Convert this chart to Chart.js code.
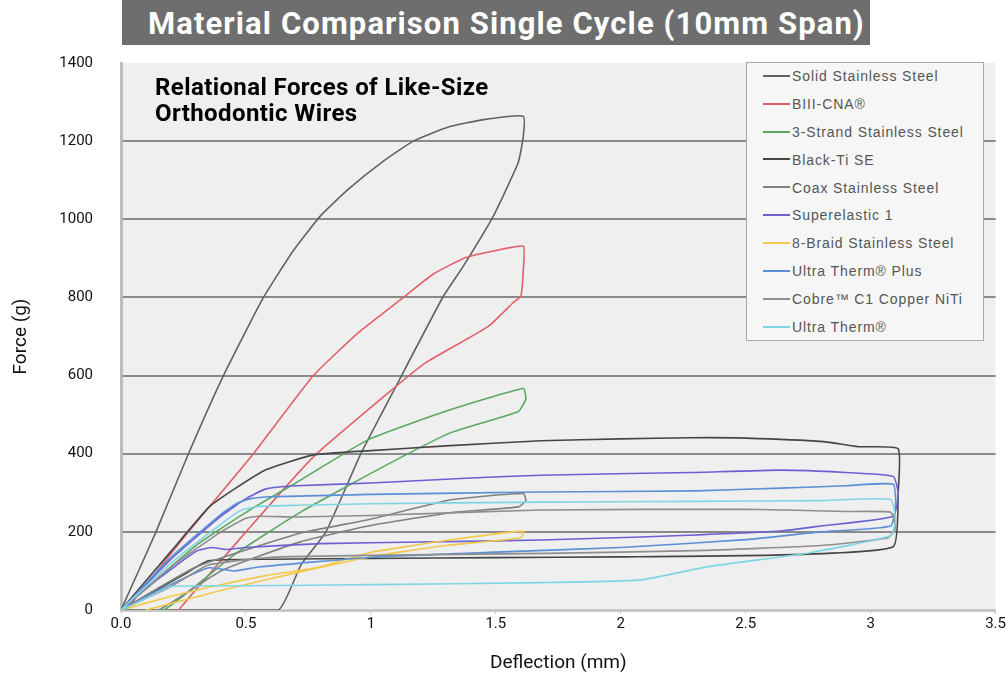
<!DOCTYPE html>
<html lang="en">
<head>
    <meta charset="UTF-8">
    <title>Material Comparison Single Cycle (10mm Span)</title>
    <script src="https://cdn.jsdelivr.net/npm/chart.js"></script>
    <style>
        body { margin: 0; background: #fff; font-family: Roboto, "Liberation Sans", sans-serif; }
        .wrap { position: relative; width: 1007px; height: 681px; }
        .title-bar {
            position: absolute; left: 122px; top: 0; width: 748px; height: 45px;
            background: #6e6e6e; color: #fff; font-weight: bold; font-size: 31px;
            line-height: 47px; white-space: nowrap; letter-spacing: 1.1px;
        }
        .title-bar span { display: inline-block; margin-left: 26px; }
        .subtitle {
            position: absolute; left: 155px; top: 74px; font-weight: bold; font-size: 24px;
            line-height: 26px; color: #000; letter-spacing: 0.4px;
        }
        .legend {
            position: absolute; left: 746px; top: 62px; width: 238px; height: 279px;
            background: #f6f6f6; border: 1px solid #a8a8a8; box-sizing: border-box;
            padding-top: 2px;
        }
        .legend div {
            height: 27.9px; line-height: 22px; font-size: 14px; color: #555; white-space: nowrap;
            font-family: "Liberation Sans", Arial, sans-serif; letter-spacing: 0.9px;
        }
        .legend i { display: inline-block; width: 27px; height: 2px; vertical-align: middle; margin: 0 2px 3px 16px; }
    </style>
</head>
<body>
    <div class="wrap">
        <canvas id="chart" width="1007" height="681"></canvas>
        <div class="title-bar"><span>Material Comparison Single Cycle (10mm Span)</span></div>
        <div class="subtitle">Relational Forces of Like-Size<br>Orthodontic Wires</div>
        <div class="legend" id="legend"></div>
    </div>

    <script>
        // deflection (mm), force (g) - loading then unloading for each wire
        const seriesNames = ['Solid Stainless Steel', 'BIII-CNA®', '3-Strand Stainless Steel', 'Black-Ti SE',
            'Coax Stainless Steel', 'Superelastic 1', '8-Braid Stainless Steel', 'Ultra Therm® Plus',
            'Cobre™ C1 Copper NiTi', 'Ultra Therm®'];
        const seriesColors = ['#5c6466', '#e0606a', '#5aa860', '#454545', '#808080',
            '#6a60d0', '#f2c94c', '#5b8fd8', '#8e8e8e', '#7fd6e3'];

        const solidSteel = [[0,0],[0.14,200],[0.27,400],[0.41,600],[0.57,800],[0.69,920],[0.8,1010],[0.91,1077],
            [1.05,1149],[1.17,1200],[1.31,1236],[1.45,1255],[1.61,1264],[1.61,1213],[1.59,1146],[1.49,1008],
            [1.37,880],[1.29,803],[1.10,572],[0.96,400],[0.82,200],[0.72,115],[0.63,0],[0.3,0],[0,0]];
        const biiiCna = [[0.02,0],[0.27,200],[0.53,400],[0.77,600],[0.95,710],[1.13,800],[1.25,860],[1.38,902],
            [1.5,920],[1.61,931],[1.61,870],[1.60,803],[1.57,787],[1.47,726],[1.22,633],[1.10,572],
            [0.77,392],[0.5,200],[0.23,0]];
        const threeStrand = [[0,0],[0.3,165],[0.5,250],[0.72,333],[0.99,436],[1.32,513],[1.61,567],[1.62,540],
            [1.59,508],[1.32,454],[1.05,367],[0.72,251],[0.45,140],[0.17,0],[0,0]];
        const blackTi = [[0,0],[0.2,150],[0.35,262],[0.45,308],[0.58,359],[0.77,397],[1.0,408],[1.3,420],
            [1.68,433],[2.0,438],[2.28,441],[2.5,440],[2.81,431],[2.95,418],[3.11,413],[3.11,300],[3.09,162],
            [2.64,141],[2.0,136],[1.5,134],[1.0,132],[0.6,130],[0.35,126],[0.25,90],[0,0]];
        const coaxSteel = [[0,0],[0.3,110],[0.72,197],[0.99,231],[1.32,282],[1.61,298],[1.62,280],[1.59,264],
            [1.32,249],[0.99,215],[0.72,175],[0.4,100],[0.15,0],[0,0]];
        const superelastic = [[0,0],[0.2,130],[0.4,240],[0.5,285],[0.58,310],[0.7,318],[1.0,325],[1.4,338],
            [1.68,345],[2.28,352],[2.64,358],[2.9,352],[3.09,342],[3.11,300],[3.09,240],[2.8,215],[2.64,202],
            [2.3,192],[2.08,187],[1.68,179],[1.2,174],[0.8,170],[0.5,160],[0.42,155],[0.36,160],[0.3,150],
            [0.15,80],[0,0]];
        const eightBraid = [[0,0],[0.2,35],[0.38,62],[0.58,88],[0.78,108],[0.99,146],[1.3,178],[1.61,202],
            [1.6,185],[1.3,165],[0.99,135],[0.7,95],[0.4,50],[0.1,0]];
        const ultraThermPlus = [[0,0],[0.2,135],[0.4,245],[0.47,275],[0.52,285],[0.6,290],[0.75,292],[1.0,296],
            [1.68,302],[2.3,305],[2.64,312],[2.9,318],[3.09,322],[3.1,270],[3.08,215],[2.8,200],[2.5,180],
            [2.0,160],[1.5,148],[1.0,135],[0.55,110],[0.45,100],[0.35,108],[0.15,50],[0,0]];
        const cobreC1 = [[0,0],[0.2,110],[0.4,200],[0.5,235],[0.55,240],[0.7,238],[1.0,242],[1.68,256],
            [2.5,258],[2.9,252],[3.08,250],[3.1,210],[3.07,185],[2.8,165],[2.3,152],[1.7,145],[1.0,140],
            [0.6,135],[0.35,115],[0.2,60],[0,0]];
        const ultraTherm = [[0,0],[0.2,120],[0.4,220],[0.48,255],[0.55,265],[0.7,268],[1.0,272],[1.68,276],
            [2.28,278],[2.8,280],[3.08,283],[3.1,230],[3.08,190],[2.75,146],[2.35,111],[2.08,77],[1.68,70],
            [1.0,65],[0.5,62],[0.2,60],[0.1,30],[0,0]];

        const seriesData = [solidSteel, biiiCna, threeStrand, blackTi, coaxSteel, superelastic,
            eightBraid, ultraThermPlus, cobreC1, ultraTherm];
        const xTicks = [0, 0.5, 1, 1.5, 2, 2.5, 3, 3.5];

        // legend box
        const legend = document.getElementById('legend');
        seriesNames.forEach((name, i) => {
            const row = document.createElement('div');
            row.innerHTML = '<i style="background:' + seriesColors[i] + '"></i>' + name;
            legend.appendChild(row);
        });

        const plotBg = {
            id: 'plotBg',
            beforeDraw(chart) {
                const a = chart.chartArea, ctx = chart.ctx;
                ctx.save();
                ctx.fillStyle = '#efefef';
                ctx.fillRect(a.left, a.top, a.right - a.left, a.bottom - a.top);
                ctx.restore();
            }
        };

        new Chart(document.getElementById('chart'), {
            type: 'scatter',
            data: {
                datasets: seriesData.map((pts, i) => ({
                    label: seriesNames[i],
                    data: pts.map(p => ({ x: p[0], y: p[1] })),
                    showLine: true,
                    borderColor: seriesColors[i],
                    borderWidth: 1.6,
                    pointRadius: 0,
                    tension: 0.15
                })).reverse()
            },
            options: {
                responsive: false,
                animation: false,
                layout: { padding: { top: 63, left: 8, right: 10, bottom: 0 } },
                plugins: { legend: { display: false }, tooltip: { enabled: false } },
                scales: {
                    x: {
                        type: 'linear', min: 0, max: 3.5,
                        afterBuildTicks: s => { s.ticks = xTicks.map(v => ({ value: v })); },
                        afterFit: s => { s.height = 71; },
                        ticks: {
                            color: '#111', font: { family: 'Roboto', size: 15 }, padding: 1,
                            callback: v => v === 0 ? '0.0' : String(v)
                        },
                        grid: { drawOnChartArea: false, color: '#c8c8c8', tickLength: 4 },
                        border: { color: '#c8c8c8', width: 3 },
                        title: { display: true, text: 'Deflection (mm)', color: '#111',
                            font: { family: 'Roboto', size: 19 }, padding: { top: 6, bottom: 6 } }
                    },
                    y: {
                        min: 0, max: 1400,
                        afterFit: s => { s.width = 113; },
                        ticks: { stepSize: 200, color: '#111', font: { family: 'Roboto', size: 15 }, padding: 28,
                            callback: v => String(v) },
                        grid: {
                            drawTicks: false,
                            color: c => (c.tick.value === 0 || c.tick.value === 1400) ? 'rgba(0,0,0,0)' : '#8a8a8a',
                            lineWidth: 2
                        },
                        border: { color: '#bdbdbd', width: 3 },
                        title: { display: true, text: 'Force (g)', color: '#111',
                            font: { family: 'Roboto', size: 19 }, padding: { top: 2, bottom: 4 } }
                    }
                }
            },
            plugins: [plotBg]
        });
    </script>
</body>
</html>
